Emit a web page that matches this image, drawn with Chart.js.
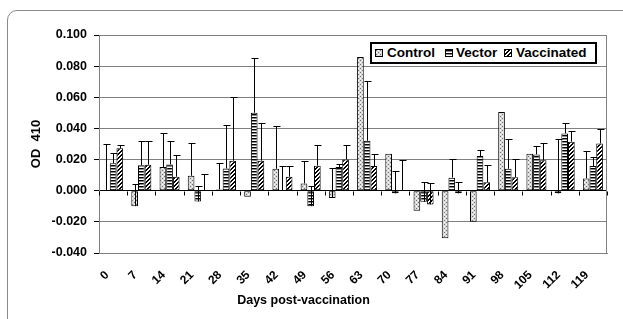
<!DOCTYPE html>
<html><head><meta charset="utf-8">
<script src="https://cdn.jsdelivr.net/npm/chart.js@4.4.1/dist/chart.umd.min.js"></script>
<style>
html,body{margin:0;padding:0;background:#fff;overflow:hidden;}
#wrap{position:relative;width:623px;height:319px;overflow:hidden;}
#frame{position:absolute;left:7px;top:10px;width:700px;height:400px;border:1px solid #8a8a8a;border-radius:10px;box-sizing:border-box;}
#chart{position:absolute;left:0;top:0;}
#legend{position:absolute;left:370px;top:42px;width:227px;height:22px;border:2px solid #000;box-sizing:border-box;background:#fff;font:bold 13.5px "Liberation Sans",Arial,sans-serif;color:#000;}
.sw{position:absolute;top:5px;width:8px;height:8px;border:1px solid #000;box-sizing:border-box;}
.lt{position:absolute;top:1px;line-height:16px;white-space:nowrap;}
</style></head>
<body>
<div id="wrap">
  <div id="frame"></div>
  <canvas id="chart" width="623" height="319"></canvas>
  <div id="legend">
    <canvas class="sw" id="sw0" width="6" height="6" style="left:3px"></canvas><span class="lt" style="left:15px">Control</span>
    <canvas class="sw" id="sw1" width="6" height="6" style="left:73px"></canvas><span class="lt" style="left:84px">Vector</span>
    <canvas class="sw" id="sw2" width="6" height="6" style="left:132px"></canvas><span class="lt" style="left:144px">Vaccinated</span>
  </div>
</div>
<script>
const categories = ['0','7','14','21','28','35','42','49','56','63','70','77','84','91','98','105','112','119'];
const seriesNames = ['Control','Vector','Vaccinated'];
const controlValues    = [0.0005,-0.0099,0.0152,0.0096,0.0008,-0.0039,0.0141,0.0047,-0.0047,0.0859,0.0238,-0.0128,-0.0306,-0.0199,0.0505,0.0238,-0.0017,0.0079];
const controlErrors    = [0.0295,0.0140,0.0221,0.0208,0.0168,null,0.0274,0.0146,0.0195,null,null,null,null,null,null,null,0.0349,0.0176];
const vectorValues     = [0.0176,0.0163,0.0169,-0.0069,0.0143,0.0501,0.0003,-0.0099,0.0152,0.0321,-0.0017,-0.0071,0.0084,0.0223,0.0141,0.0233,0.0368,0.0158];
const vectorErrors     = [0.0068,0.0158,0.0148,0.0099,0.0277,0.0349,0.0158,0.0131,0.0021,0.0386,0.0143,0.0125,0.0122,0.0038,0.0191,0.0056,0.0067,0.0056];
const vaccinatedValues = [0.0272,0.0167,0.0090,0.0005,0.0193,0.0193,0.0090,0.0161,0.0201,0.0158,0.0005,-0.0088,-0.0017,0.0054,0.0086,0.0195,0.0315,0.0304];
const vaccinatedErrors = [0.0019,0.0154,0.0139,0.0100,0.0407,0.0240,0.0068,0.0135,0.0090,0.0075,0.0190,0.0137,0.0071,0.0109,0.0117,0.0111,0.0068,0.0092];
const yTickValues = [-0.04,-0.02,0,0.02,0.04,0.06,0.08,0.1];
const yTickLabels = ['-0.040','-0.020','0.000','0.020','0.040','0.060','0.080','0.100'];

function makeTile(kind){
  const c=document.createElement('canvas');
  c.width=4; c.height=(kind==='hlines')?3:4;
  const g=c.getContext('2d');
  g.fillStyle='#fff'; g.fillRect(0,0,c.width,c.height);
  if(kind==='dots'){
    g.fillStyle='#d9d9d9'; g.fillRect(0,0,4,4);
    g.fillStyle='#707070'; g.fillRect(0,0,1,1); g.fillRect(2,2,1,1);
    g.fillStyle='#ffffff'; g.fillRect(2,0,1,1); g.fillRect(0,2,1,1);
  } else if(kind==='hlines'){
    g.fillStyle='#000'; g.fillRect(0,0,4,1);
    g.fillStyle='#8a8a8a'; g.fillRect(0,1,4,1);
  } else {
    g.fillStyle='#000';
    for(let i=0;i<4;i++){ g.fillRect(i,3-i,1,1); g.fillRect((i+1)%4,3-i,1,1); }
  }
  return c;
}
const tiles=[makeTile('dots'),makeTile('hlines'),makeTile('diag')];
const patterns=tiles.map(t=>t.getContext('2d').createPattern(t,'repeat'));
tiles.forEach((t,i)=>{const s=document.getElementById('sw'+i).getContext('2d'); s.fillStyle=s.createPattern(t,'repeat'); s.fillRect(0,0,6,6);});

const font = (size)=>({family:'"Liberation Sans", Arial, sans-serif', weight:'bold', size});

const errorBars = {
  id:'errorBars',
  beforeDatasetsDraw(chart){
    const {ctx, chartArea:a} = chart;
    ctx.save(); ctx.strokeStyle='#808080'; ctx.lineWidth=1;
    ctx.strokeRect(Math.round(a.left)+0.5, Math.round(a.top)+0.5, Math.round(a.right-a.left)-1, Math.round(a.bottom-a.top));
    ctx.restore();
  },
  afterDatasetsDraw(chart){
    const {ctx, scales:{x,y}} = chart;
    ctx.save(); ctx.strokeStyle='#000'; ctx.lineWidth=1;
    const y0=Math.round(y.getPixelForValue(0))+0.5;
    const half=(x.getPixelForTick(1)-x.getPixelForTick(0))/2;
    ctx.beginPath();
    for(let i=0;i<=categories.length;i++){
      const px=Math.round(x.getPixelForTick(Math.min(i,categories.length-1))+(i<categories.length?-half:half))+0.5;
      ctx.moveTo(px,y0); ctx.lineTo(px,y0+4);
    }
    ctx.stroke();
    chart.data.datasets.forEach((ds,i)=>{
      const meta=chart.getDatasetMeta(i);
      meta.data.forEach((bar,j)=>{
        const e=ds.errors[j]; if(e==null) return;
        const v=ds.data[j];
        const px=Math.round(bar.x)+0.5;
        const ya=y.getPixelForValue(v), yb=Math.round(y.getPixelForValue(v+e))+0.5;
        ctx.beginPath(); ctx.moveTo(px,ya); ctx.lineTo(px,yb);
        ctx.moveTo(px-3,yb); ctx.lineTo(px+4,yb); ctx.stroke();
      });
    });
    ctx.restore();
  }
};

new Chart(document.getElementById('chart'), {
  type:'bar',
  data:{
    labels:categories,
    datasets:[
      {label:seriesNames[0], data:controlValues, errors:controlErrors, backgroundColor:patterns[0]},
      {label:seriesNames[1], data:vectorValues, errors:vectorErrors, backgroundColor:patterns[1]},
      {label:seriesNames[2], data:vaccinatedValues, errors:vaccinatedErrors, backgroundColor:patterns[2]}
    ].map(d=>Object.assign(d,{borderColor:'#000',borderWidth:1,borderSkipped:false,categoryPercentage:0.71,barPercentage:1}))
  },
  options:{
    responsive:false, animation:false, devicePixelRatio:1,
    layout:{padding:{left:0,right:16,top:35,bottom:0}},
    plugins:{
      legend:{display:false},
      tooltip:{enabled:false},
      title:{display:true, position:'bottom', text:'Days post-vaccination', font:font(12.5), color:'#000', padding:{top:0,bottom:11}}
    },
    scales:{
      x:{
        grid:{display:false},
        border:{display:true,color:'#808080'},
        ticks:{autoSkip:false,maxRotation:45,minRotation:45,font:font(12),color:'#000',padding:7,labelOffset:-6},
        afterFit(s){ s.height=40; }
      },
      y:{
        min:-0.04, max:0.1,
        afterBuildTicks(s){ s.ticks=yTickValues.map(v=>({value:v})); },
        ticks:{callback:(v,i)=>yTickLabels[i], font:font(12.5), color:'#000', padding:7},
        grid:{color:c=>(c.tick && c.tick.value===0)?'#000':'#808080', tickColor:'#000', tickLength:5},
        border:{color:'#000'},
        title:{display:true, text:'OD  410', font:font(13), color:'#000', padding:{top:29,bottom:0}},
        afterFit(s){ s.width=99; }
      }
    }
  },
  plugins:[errorBars]
});
</script>
</body></html>
